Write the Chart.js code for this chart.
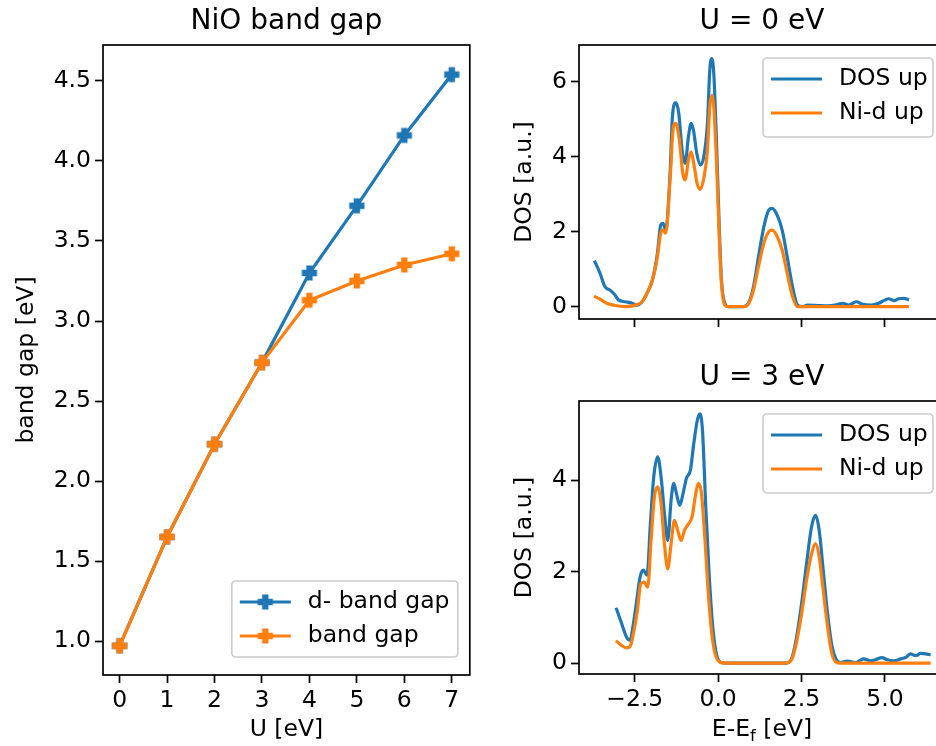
<!DOCTYPE html>
<html>
<head>
<meta charset="utf-8">
<script src="https://cdn.jsdelivr.net/npm/chart.js@4.4.0/dist/chart.umd.min.js"></script>
<style>
  html, body { margin: 0; padding: 0; background: #fff; overflow: hidden; width: 936px; height: 746px; }
  #wrap { position: relative; width: 960px; height: 746px; }
  canvas { position: absolute; }
  #gapChart { left: 0; top: 0; }
  #dos0Chart { left: 470px; top: 0; }
  #dos3Chart { left: 470px; top: 340px; }
</style>
</head>
<body>
<div id="wrap">
  <canvas id="gapChart" width="480" height="746"></canvas>
  <canvas id="dos0Chart" width="490" height="340"></canvas>
  <canvas id="dos3Chart" width="490" height="406"></canvas>
</div>
<script>
// NiO band gap vs U, plus DOS at U = 0 and U = 3

const BLUE = '#1f77b4';
const ORANGE = '#ff7f0e';

// --- band gap panel ---
const U_VALUES = [0, 1, 2, 3, 4, 5, 6, 7];
const D_BAND_GAP = [0.97, 1.65, 2.23, 2.74, 3.30, 3.72, 4.16, 4.54];
const BAND_GAP = [0.97, 1.65, 2.23, 2.74, 3.13, 3.25, 3.35, 3.42];
const GAP_Y_TICKS = [1.0, 1.5, 2.0, 2.5, 3.0, 3.5, 4.0, 4.5];
const GAP_Y_LABELS = ['1.0', '1.5', '2.0', '2.5', '3.0', '3.5', '4.0', '4.5'];
const GAP_X_TICKS = [0, 1, 2, 3, 4, 5, 6, 7];
const GAP_X_LABELS = ['0', '1', '2', '3', '4', '5', '6', '7'];

// --- DOS, U = 0 eV ---
const U0_UP_E = [-3.71, -3.54, -3.39, -3.24, -3.09, -2.99, -2.78, -2.58, -2.43, -2.28, -2.13, -1.97, -1.82, -1.72, -1.65, -1.57,
  -1.44, -1.37, -1.27, -1.18, -1.08, -0.99, -0.89, -0.81, -0.74, -0.64, -0.53, -0.43, -0.32, -0.25, -0.19, -0.13, -0.05,
  0.03, 0.10, 0.20, 0.30, 0.76, 0.91, 1.06, 1.21, 1.37, 1.52, 1.62, 1.77, 1.92, 2.07, 2.23, 2.38, 2.53,
  2.68, 2.99, 3.29, 3.60, 3.74, 3.91, 4.15, 4.30, 4.61, 4.81, 5.01, 5.11, 5.27, 5.41, 5.57, 5.72];
const U0_UP_DOS = [1.23, 0.89, 0.53, 0.44, 0.31, 0.18, 0.13, 0.09, 0.04, 0.13, 0.36, 0.71, 1.42, 2.18, 2.22, 2.04,
  3.56, 5.07, 5.44, 5.16, 4.18, 3.82, 4.53, 4.89, 4.71, 4.09, 3.78, 4.00, 4.89, 6.31, 6.62, 6.22, 4.44,
  2.22, 0.71, 0.09, 0, 0, 0.09, 0.53, 1.33, 2.13, 2.58, 2.62, 2.44, 2.04, 1.33, 0.53, 0.04, 0,
  0.04, 0.03, 0.02, 0.06, 0.09, 0.04, 0.13, 0.07, 0.04, 0.09, 0.18, 0.21, 0.16, 0.21, 0.22, 0.18];
const U0_NID_E = [-3.72, -3.54, -3.34, -3.09, -2.78, -2.48, -2.28, -2.13, -1.97, -1.82, -1.72, -1.65, -1.57,
  -1.44, -1.34, -1.27, -1.16, -1.06, -0.99, -0.89, -0.81, -0.73, -0.63, -0.54, -0.44, -0.32, -0.25, -0.19, -0.13, -0.05,
  0.03, 0.10, 0.20, 0.30, 0.76, 0.91, 1.06, 1.21, 1.37, 1.52, 1.62, 1.77, 1.92, 2.07, 2.23, 2.38, 5.72];
const U0_NID_DOS = [0.28, 0.20, 0.09, 0.03, 0, 0.04, 0.13, 0.36, 0.71, 1.33, 1.96, 2.04, 1.96,
  3.38, 4.80, 4.89, 4.44, 3.56, 3.38, 3.91, 4.13, 3.82, 3.29, 3.13, 3.38, 4.18, 5.33, 5.64, 5.33, 3.91,
  1.96, 0.62, 0.04, 0, 0, 0.07, 0.44, 1.07, 1.69, 2.00, 2.04, 1.87, 1.51, 0.89, 0.27, 0, 0];

// --- DOS, U = 3 eV ---
const U3_UP_E = [-3.06, -2.89, -2.74, -2.64, -2.54, -2.44, -2.34, -2.24, -2.13, -2.03, -1.93, -1.81, -1.71, -1.60, -1.51,
  -1.41, -1.33, -1.25, -1.15, -1.05, -0.95, -0.83, -0.73, -0.62, -0.55, -0.47, -0.37, -0.27, -0.17, -0.07,
  0.08, 0.23, 2.04, 2.20, 2.35, 2.50, 2.65, 2.80, 2.92, 3.03, 3.15, 3.27, 3.40, 3.53, 3.66,
  3.86, 4.11, 4.36, 4.56, 4.71, 4.91, 5.07, 5.27, 5.47, 5.62, 5.77, 5.92, 6.07, 6.22, 6.37];
const U3_UP_DOS = [1.21, 0.86, 0.56, 0.50, 0.86, 1.37, 1.88, 2.03, 1.92, 3.05, 4.07, 4.51, 4.07, 3.20, 2.68,
  3.56, 3.93, 3.71, 3.45, 3.71, 4.04, 4.22, 4.80, 5.32, 5.45, 5.10, 3.41, 1.95, 0.86, 0.27,
  0.01, 0, 0, 0.09, 0.56, 1.29, 2.17, 2.98, 3.23, 2.90, 2.03, 1.15, 0.42, 0.09, 0.01,
  0.04, 0.01, 0.09, 0.05, 0.07, 0.12, 0.07, 0.05, 0.09, 0.12, 0.20, 0.16, 0.21, 0.20, 0.18];
const U3_NID_E = [-3.06, -2.89, -2.74, -2.64, -2.54, -2.42, -2.32, -2.22, -2.11, -2.01, -1.91, -1.81, -1.71, -1.61, -1.51,
  -1.41, -1.31, -1.21, -1.11, -1.01, -0.88, -0.78, -0.67, -0.59, -0.50, -0.40, -0.30, -0.20, -0.09,
  0.08, 0.23, 2.04, 2.20, 2.35, 2.50, 2.65, 2.80, 2.92, 3.03, 3.15, 3.27, 3.40, 3.55, 3.66, 6.37];
const U3_NID_DOS = [0.49, 0.38, 0.33, 0.36, 0.64, 1.15, 1.73, 1.77, 1.66, 2.68, 3.63, 3.85, 3.49, 2.61, 2.06,
  2.61, 3.12, 2.90, 2.68, 2.90, 3.05, 3.20, 3.71, 3.93, 3.71, 2.76, 1.59, 0.71, 0.20,
  0.01, 0, 0, 0.07, 0.45, 1.07, 1.81, 2.39, 2.61, 2.32, 1.59, 0.86, 0.23, 0.01, 0, 0];

const E_TICKS = [-2.5, 0, 2.5, 5];
const E_LABELS = ['\u22122.5', '0.0', '2.5', '5.0'];
const DOS0_TICKS = [0, 2, 4, 6];
const DOS0_LABELS = ['0', '2', '4', '6'];
const DOS3_TICKS = [0, 2, 4];
const DOS3_LABELS = ['0', '2', '4'];

Chart.defaults.font.family = 'DejaVu Sans';
Chart.defaults.color = '#000';
Chart.defaults.animation = false;

const FS = 23.5;               // tick / label / legend size
const TICK_FONT = { size: FS };
const TITLE_FONT = { size: 28, weight: 'normal' };

// filled plus marker, like matplotlib 'P'
function plusMarker(color) {
    const c = document.createElement('canvas');
    c.width = c.height = 18;
    const g = c.getContext('2d');
    const s = 2.2, cx = 9, cy = 9;
    const pts = [[-1, -3], [-1, -1], [-3, -1], [-3, 1], [-1, 1], [-1, 3], [1, 3], [1, 1], [3, 1], [3, -1], [1, -1], [1, -3]];
    g.beginPath();
    pts.forEach(([x, y], i) => {
        if (i === 0) g.moveTo(cx + x * s, cy + y * s);
        else g.lineTo(cx + x * s, cy + y * s);
    });
    g.closePath();
    g.fillStyle = color;
    g.fill();
    g.strokeStyle = color;
    g.lineWidth = 2;
    g.stroke();
    return c;
}

const markers = { blue: plusMarker(BLUE), orange: plusMarker(ORANGE) };

function toPoints(xs, ys) {
    return xs.map((x, i) => ({ x: x, y: ys[i] }));
}

// fixes axis box size so plot areas land where they should
function fixSize(size) {
    return (scale) => {
        if (scale.isHorizontal()) {
            scale.height = size;
            scale.paddingLeft = 0;
            scale.paddingRight = 0;
        } else {
            scale.width = size;
            scale.paddingTop = 0;
            scale.paddingBottom = 0;
        }
    };
}

function axis(min, max, ticks, labels, size, extra) {
    return Object.assign({
        type: 'linear',
        min: min,
        max: max,
        afterBuildTicks: (s) => { s.ticks = ticks.map(v => ({ value: v })); },
        afterFit: fixSize(size),
        grid: { drawOnChartArea: false, drawTicks: true, tickLength: 8, tickWidth: 1.7, tickColor: '#000' },
        border: { display: false },
        ticks: { font: TICK_FONT, color: '#000', padding: 4, autoSkip: false, maxRotation: 0,
                 callback: (v, i) => labels[i] }
    }, extra || {});
}

// spines all round + legend box in the axes
const framePlugin = {
    id: 'frame',
    afterDatasetsDraw(chart) {
        const ca = chart.chartArea;
        const ctx = chart.ctx;
        ctx.save();
        ctx.strokeStyle = '#000';
        ctx.lineWidth = 1.7;
        ctx.strokeRect(ca.left, ca.top, ca.right - ca.left, ca.bottom - ca.top);
        ctx.restore();
    },
    afterDraw(chart, args, opts) {
        if (!opts || !opts.width) return;
        const ca = chart.chartArea;
        const ctx = chart.ctx;
        const w = opts.width, h = opts.height;
        const left = ca.right - 12 - w;
        const top = opts.anchor === 'top' ? ca.top + 13 : ca.bottom - 18 - h;
        ctx.save();
        ctx.beginPath();
        ctx.roundRect(left, top, w, h, 4);
        ctx.fillStyle = 'rgba(255,255,255,0.8)';
        ctx.fill();
        ctx.strokeStyle = '#cccccc';
        ctx.lineWidth = 1.7;
        ctx.stroke();
        chart.data.datasets.forEach((ds, i) => {
            const y = top + 21 + i * 34;
            ctx.beginPath();
            ctx.moveTo(left + 8, y);
            ctx.lineTo(left + 59, y);
            ctx.strokeStyle = ds.borderColor;
            ctx.lineWidth = ds.borderWidth;
            ctx.stroke();
            if (ds.pointStyle instanceof HTMLCanvasElement) {
                ctx.drawImage(ds.pointStyle, left + 33.5 - 9, y - 9);
            }
            ctx.fillStyle = '#000';
            ctx.font = FS + 'px "DejaVu Sans"';
            ctx.textBaseline = 'middle';
            ctx.textAlign = 'left';
            ctx.fillText(ds.label, left + 76, y);
        });
        ctx.restore();
    }
};

// "E-E_f [eV]" with a real subscript
const subLabelPlugin = {
    id: 'subLabel',
    afterDraw(chart, args, opts) {
        if (!opts || !opts.show) return;
        const ca = chart.chartArea;
        const ctx = chart.ctx;
        const cx = (ca.left + ca.right) / 2;
        const base = chart.height - 10;
        ctx.save();
        ctx.fillStyle = '#000';
        ctx.textBaseline = 'alphabetic';
        ctx.textAlign = 'left';
        const big = FS + 'px "DejaVu Sans"', small = (FS * 0.7) + 'px "DejaVu Sans"';
        ctx.font = big;
        const w1 = ctx.measureText('E-E').width;
        const w3 = ctx.measureText(' [eV]').width;
        ctx.font = small;
        const w2 = ctx.measureText('f').width;
        let x = cx - (w1 + w2 + w3) / 2;
        ctx.font = big;
        ctx.fillText('E-E', x, base);
        x += w1;
        ctx.font = small;
        ctx.fillText('f', x, base + 5);
        x += w2;
        ctx.font = big;
        ctx.fillText(' [eV]', x, base);
        ctx.restore();
    }
};

function lineSet(label, data, color, extra) {
    return Object.assign({
        label: label,
        data: data,
        borderColor: color,
        backgroundColor: color,
        borderWidth: 3.2,
        pointRadius: 0,
        tension: 0,
        fill: false
    }, extra || {});
}

function baseOptions(title, titlePad, padRight, legend, extra) {
    return Object.assign({
        responsive: false,
        devicePixelRatio: 1,
        animation: false,
        layout: { padding: { left: 0, right: padRight, top: 0, bottom: 0 } },
        plugins: {
            legend: { display: false },
            tooltip: { enabled: false },
            title: { display: true, text: title, font: TITLE_FONT, color: '#000', fullSize: false,
                     padding: titlePad },
            frame: legend
        }
    }, extra);
}

// band gap vs U
new Chart(document.getElementById('gapChart'), {
    type: 'line',
    data: {
        datasets: [
            lineSet('d- band gap', toPoints(U_VALUES, D_BAND_GAP), BLUE,
                { pointStyle: markers.blue, pointRadius: 7, order: 1 }),
            lineSet('band gap', toPoints(U_VALUES, BAND_GAP), ORANGE,
                { pointStyle: markers.orange, pointRadius: 7, order: 0 })
        ]
    },
    options: baseOptions('NiO band gap', { top: 5, bottom: 6.4 }, 10,
        { anchor: 'bottom', width: 226, height: 76 }, {
        scales: {
            x: axis(-0.35, 7.38, GAP_X_TICKS, GAP_X_LABELS, 71, {
                title: { display: true, text: 'U [eV]', font: TICK_FONT, color: '#000', padding: { top: 0, bottom: 2 } }
            }),
            y: axis(0.7875, 4.725, GAP_Y_TICKS, GAP_Y_LABELS, 103, {
                title: { display: true, text: 'band gap [eV]', font: TICK_FONT, color: '#000', padding: { top: 13, bottom: 0 } }
            })
        }
    }),
    plugins: [framePlugin]
});

const DOS_STYLE = { cubicInterpolationMode: 'monotone' };

// DOS, U = 0
new Chart(document.getElementById('dos0Chart'), {
    type: 'line',
    data: {
        datasets: [
            lineSet('DOS up', toPoints(U0_UP_E, U0_UP_DOS), BLUE, Object.assign({ order: 1 }, DOS_STYLE)),
            lineSet('Ni-d up', toPoints(U0_NID_E, U0_NID_DOS), ORANGE, Object.assign({ order: 0 }, DOS_STYLE))
        ]
    },
    options: baseOptions('U = 0 eV', { top: 5, bottom: 6.4 }, 15,
        { anchor: 'top', width: 170, height: 79 }, {
        scales: {
            x: axis(-4.17, 6.8, E_TICKS, E_LABELS, 21, { ticks: { display: false } }),
            y: axis(-0.33, 6.98, DOS0_TICKS, DOS0_LABELS, 109, {
                title: { display: true, text: 'DOS [a.u.]', font: TICK_FONT, color: '#000', padding: { top: 41, bottom: 0 } }
            })
        }
    }),
    plugins: [framePlugin]
});

// DOS, U = 3
new Chart(document.getElementById('dos3Chart'), {
    type: 'line',
    data: {
        datasets: [
            lineSet('DOS up', toPoints(U3_UP_E, U3_UP_DOS), BLUE, Object.assign({ order: 1 }, DOS_STYLE)),
            lineSet('Ni-d up', toPoints(U3_NID_E, U3_NID_DOS), ORANGE, Object.assign({ order: 0 }, DOS_STYLE))
        ]
    },
    options: baseOptions('U = 3 eV', { top: 21.2, bottom: 6.2 }, 15,
        { anchor: 'top', width: 170, height: 79 }, {
        scales: {
            x: axis(-4.17, 6.8, E_TICKS, E_LABELS, 72),
            y: axis(-0.24, 5.73, DOS3_TICKS, DOS3_LABELS, 109, {
                title: { display: true, text: 'DOS [a.u.]', font: TICK_FONT, color: '#000', padding: { top: 41, bottom: 0 } }
            })
        }
    }),
    plugins: [framePlugin, subLabelPlugin]
});
Chart.getChart('dos3Chart').options.plugins.subLabel = { show: true };
Chart.getChart('dos3Chart').update();
</script>
</body>
</html>
